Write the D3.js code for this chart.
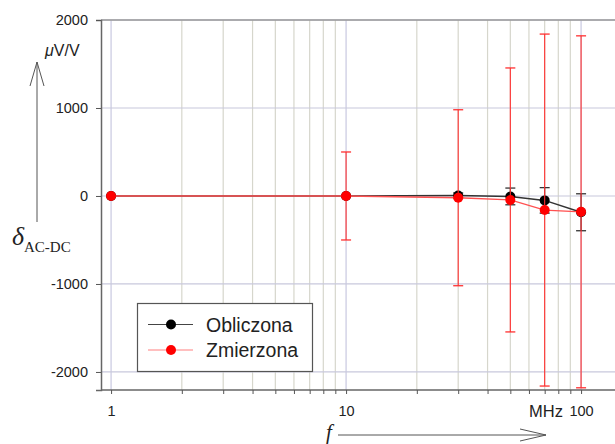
<html>
<head><meta charset="utf-8"/></head>
<script src="https://d3js.org/d3.v7.min.js"></script>
<style>
  body { margin: 0; background: #fff; }
  text { font-family: "Liberation Sans", Arial, sans-serif; fill: #222; }
  .serif { font-family: "Liberation Serif", "Times New Roman", serif; }
</style>
<body>
<svg width="615" height="444"></svg>
<script>
// frequencies in MHz
var freq = [1, 10, 30, 50, 70, 100];
var obliczona = [0, 0, 5, -5, -50, -185];
var obliczonaErr = [0, 0, 30, 95, 145, 210];
var zmierzona = [0, 0, -20, -45, -160, -180];
var zmierzonaErr = [0, 500, 1000, 1500, 2000, 2000];
var yTicks = [-2000, -1000, 0, 1000, 2000];
var xLabels = [1, 10, 100];
var legendNames = ["Obliczona", "Zmierzona"];

var svg = d3.select("svg");
var pLeft = 101, pRight = 615, pTop = 20, pBottom = 390;

var x = d3.scaleLog().domain([0.906, 150]).range([pLeft, pLeft + 235 * Math.log10(150 / 0.906)]);
var y = d3.scaleLinear().domain([-2205, 2000]).range([pBottom, pTop]);

// minor and major positions on log axis
var xGrid = [];
[1, 10, 100].forEach(function(d) {
  for (var k = 1; k <= 9; k++) xGrid.push(d * k);
});
xGrid = xGrid.filter(function(v) { return x(v) < pRight; });

// grid
var grid = svg.append("g");
grid.selectAll("line.v").data(xGrid).enter().append("line").attr("class", "v")
  .attr("x1", function(d) { return x(d); }).attr("x2", function(d) { return x(d); })
  .attr("y1", pTop).attr("y2", pBottom)
  .attr("stroke", function(d) { return xLabels.indexOf(d) >= 0 ? "#c8c8e0" : "#d6d6cc"; })
  .attr("stroke-width", 1.2);
grid.selectAll("line.h").data(yTicks).enter().append("line").attr("class", "h")
  .attr("x1", pLeft).attr("x2", pRight)
  .attr("y1", function(d) { return y(d); }).attr("y2", function(d) { return y(d); })
  .attr("stroke", "#c8c8dc").attr("stroke-width", 1.2);

// top border
svg.append("line").attr("x1", pLeft).attr("x2", pRight).attr("y1", pTop).attr("y2", pTop)
  .attr("stroke", "#999").attr("stroke-width", 1.5);

// axes
var yAxis = svg.append("g").attr("transform", "translate(" + pLeft + ",0)")
  .call(d3.axisLeft(y).tickValues(yTicks).tickSize(5).tickPadding(8).tickFormat(function(d) { return String(d); }));
var xAxis = svg.append("g").attr("transform", "translate(0," + pBottom + ")")
  .call(d3.axisBottom(x).tickValues(xGrid).tickSize(4).tickPadding(12)
    .tickFormat(function(d) { return xLabels.indexOf(d) >= 0 ? d : ""; }));
[yAxis, xAxis].forEach(function(a) {
  a.select(".domain").attr("stroke", "#666").attr("stroke-width", 1.5);
  a.selectAll(".tick line").attr("stroke", "#555");
  a.selectAll("text").attr("font-size", 14.5).attr("fill", "#222")
    .style("font-family", "'Liberation Sans', Arial, sans-serif");
});
xAxis.select(".domain").attr("d", "M" + pLeft + ",0H" + pRight);

// series
var series = [
  { v: obliczona, e: obliczonaErr, line: "#333", dot: "#000", bar: "#333", lw: 1.5 },
  { v: zmierzona, e: zmierzonaErr, line: "#ff5050", dot: "#ff0000", bar: "#ff3030", lw: 1.3 }
];
var lineGen = d3.line().x(function(d, i) { return x(freq[i]); }).y(function(d) { return y(d); });

series.forEach(function(s) {
  var g = svg.append("g");
  var bars = freq.map(function(f, i) { return { f: f, v: s.v[i], e: s.e[i] }; })
    .filter(function(d) { return d.e > 0; });
  g.selectAll("line.eb").data(bars).enter().append("line").attr("class", "eb")
    .attr("x1", function(d) { return x(d.f); }).attr("x2", function(d) { return x(d.f); })
    .attr("y1", function(d) { return Math.min(pBottom, y(d.v - d.e)); })
    .attr("y2", function(d) { return y(d.v + d.e); })
    .attr("stroke", s.bar).attr("stroke-width", 1.1);
  [1, -1].forEach(function(sign, k) {
    g.selectAll("line.cap" + k).data(bars).enter().append("line").attr("class", "cap" + k)
      .attr("x1", function(d) { return x(d.f) - 5; }).attr("x2", function(d) { return x(d.f) + 5; })
      .attr("y1", function(d) { return Math.min(pBottom, y(d.v + sign * d.e)); })
      .attr("y2", function(d) { return Math.min(pBottom, y(d.v + sign * d.e)); })
      .attr("stroke", s.bar).attr("stroke-width", 1.3);
  });
  g.append("path").attr("d", lineGen(s.v)).attr("fill", "none")
    .attr("stroke", s.line).attr("stroke-width", s.lw);
  g.selectAll("circle").data(s.v).enter().append("circle")
    .attr("cx", function(d, i) { return x(freq[i]); }).attr("cy", function(d) { return y(d); })
    .attr("r", 5).attr("fill", s.dot);
});

// legend
var lg = svg.append("g");
lg.append("rect").attr("x", 137.5).attr("y", 303.5).attr("width", 175).attr("height", 68)
  .attr("fill", "#fff").attr("stroke", "#555").attr("stroke-width", 1.2);
legendNames.forEach(function(n, i) {
  var yy = 324.5 + i * 25.5;
  var s = series[i];
  lg.append("line").attr("x1", 148).attr("x2", 193).attr("y1", yy).attr("y2", yy)
    .attr("stroke", i == 0 ? "#444" : "#ff8080").attr("stroke-width", 1.2);
  lg.append("circle").attr("cx", 171).attr("cy", yy).attr("r", 5).attr("fill", s.dot);
  lg.append("text").attr("x", 206).attr("y", yy + 7).attr("font-size", 19.5).text(n);
});

// y axis label with arrow
var ar = svg.append("g").attr("stroke", "#555").attr("fill", "none").attr("stroke-width", 1);
ar.append("line").attr("x1", 37).attr("x2", 37).attr("y1", 62).attr("y2", 222);
ar.append("path").attr("d", "M30,86L37,62L44,86");
svg.append("text").attr("x", 45).attr("y", 56).attr("font-size", 16).attr("font-style", "italic").text("\u03bc")
  .append("tspan").attr("font-style", "normal").text("V/V");
svg.append("text").attr("class", "serif").attr("x", 12).attr("y", 245).attr("font-size", 26)
  .attr("font-style", "italic").text("\u03b4");
svg.append("text").attr("class", "serif").attr("x", 24).attr("y", 252).attr("font-size", 15).text("AC-DC");

// x axis label with arrow
svg.append("text").attr("x", 529).attr("y", 417).attr("font-size", 16.5).text("MHz");
svg.append("text").attr("class", "serif").attr("x", 326).attr("y", 439).attr("font-size", 21)
  .attr("font-style", "italic").text("f");
var ax = svg.append("g").attr("stroke", "#555").attr("fill", "none").attr("stroke-width", 1);
ax.append("line").attr("x1", 338).attr("x2", 546).attr("y1", 435).attr("y2", 435);
ax.append("path").attr("d", "M520,429L546,435L520,441");
</script>
</body>
</html>
